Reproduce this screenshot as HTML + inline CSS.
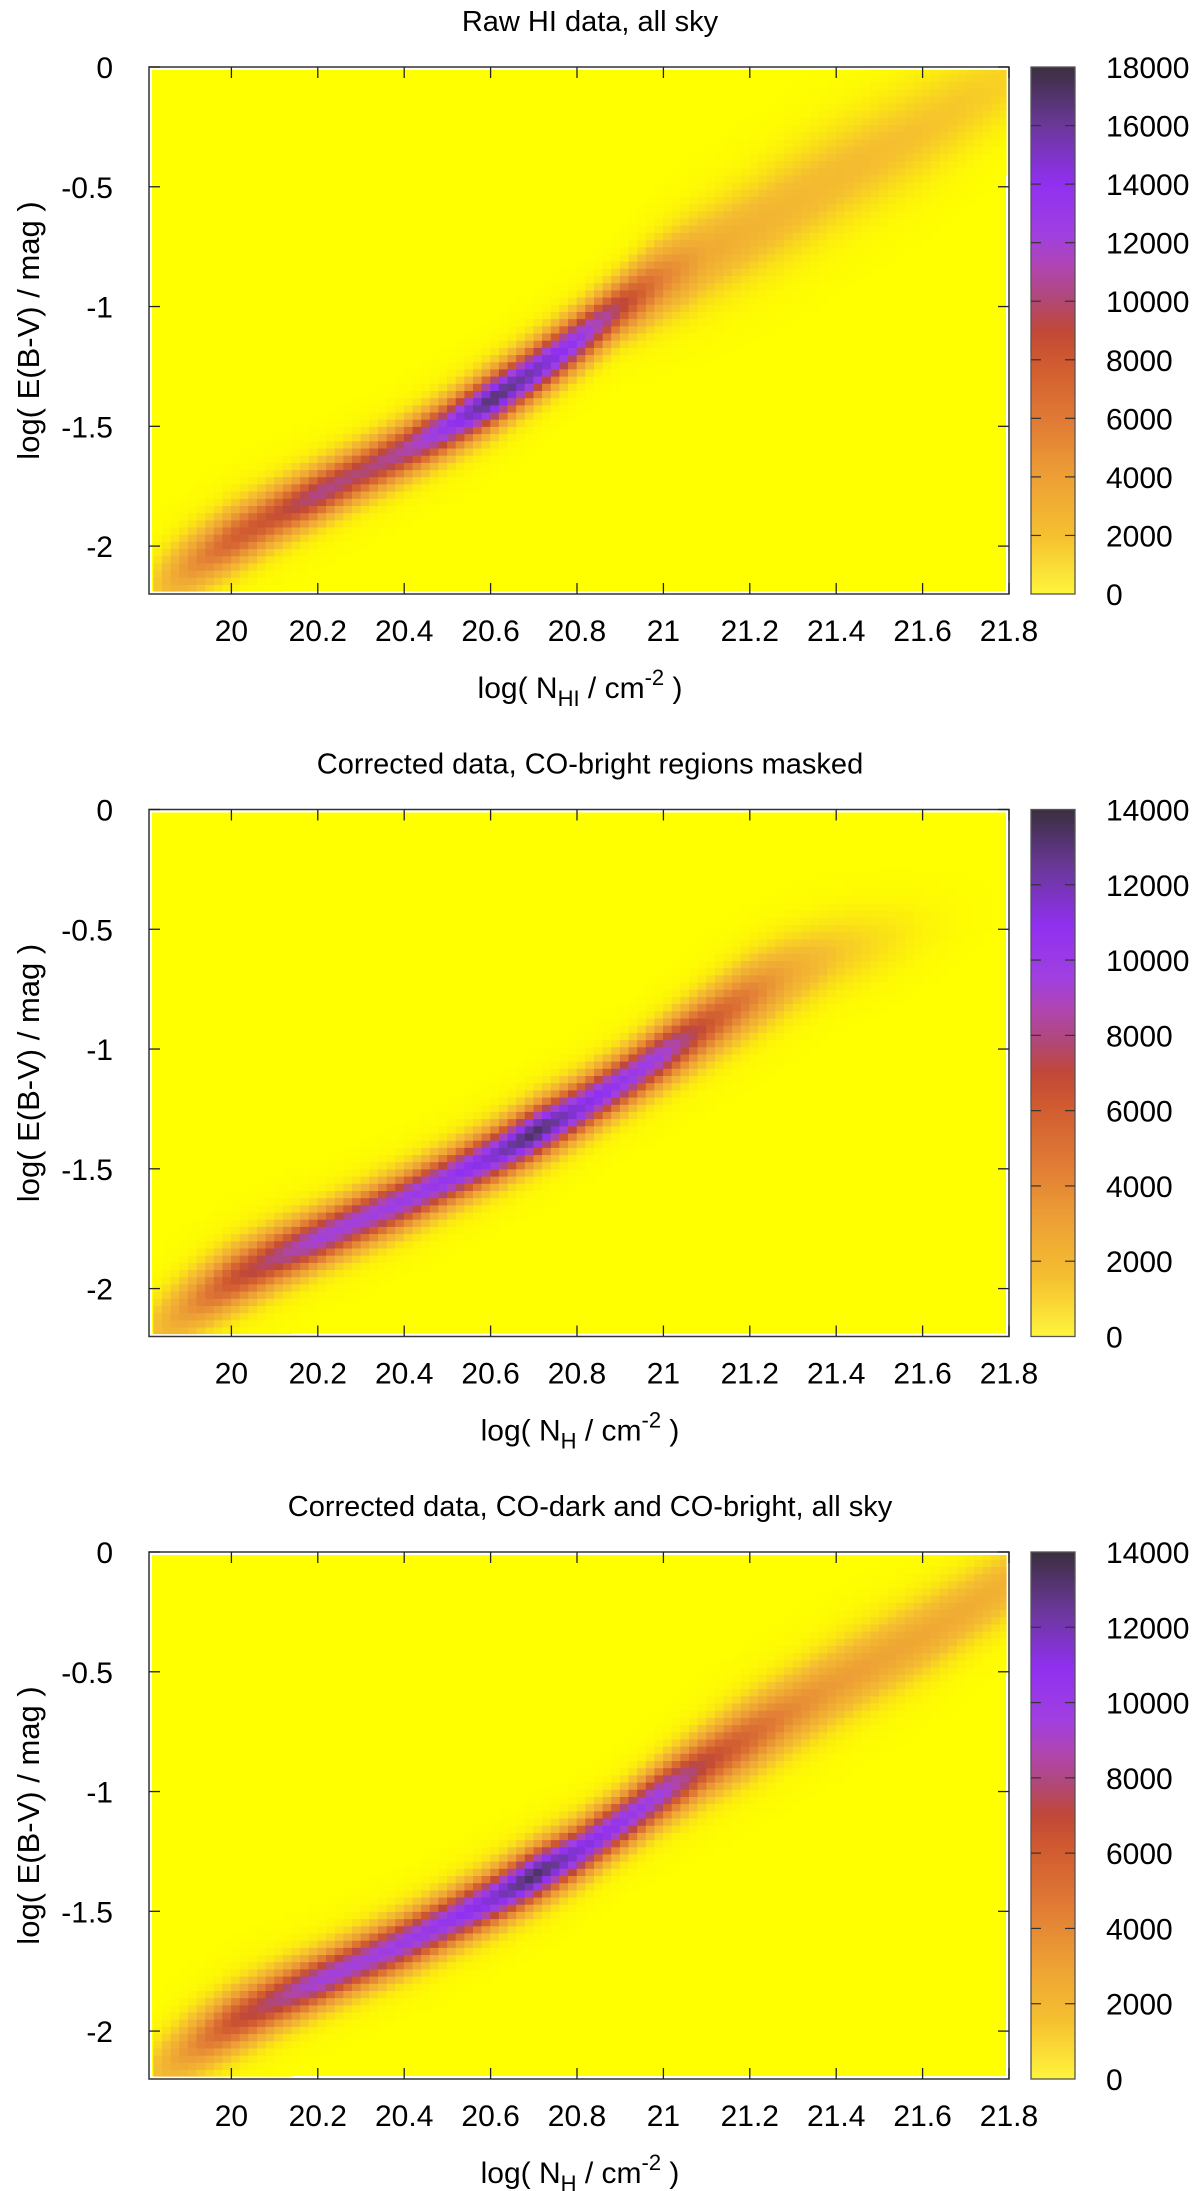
<!DOCTYPE html>
<html><head><meta charset="utf-8">
<style>
html,body{margin:0;padding:0;background:#fff;}
svg{display:block;}
text{font-family:"Liberation Sans",sans-serif;fill:#000;}
</style></head>
<body>
<svg id="fig" width="1200" height="2191" viewBox="0 0 1200 2191" xmlns="http://www.w3.org/2000/svg"></svg>
<script>
// ---- chart data ----
const titles = ["Raw HI data, all sky", "Corrected data, CO-bright regions masked", "Corrected data, CO-dark and CO-bright, all sky"];
const xSub = ["HI", "H", "H"];
const xTicks = [20, 20.2, 20.4, 20.6, 20.8, 21, 21.2, 21.4, 21.6, 21.8];
const xTickLabels = ["20","20.2","20.4","20.6","20.8","21","21.2","21.4","21.6","21.8"];
const yTicks = [0, -0.5, -1, -1.5, -2];
const yTickLabels = ["0","-0.5","-1","-1.5","-2"];
const cbMax = [18000, 14000, 14000];
// ridge sample positions along x
const ridgeX = [19.82, 19.9, 20.0, 20.1, 20.2, 20.3, 20.4, 20.5, 20.6, 20.7, 20.8, 20.9, 21.0, 21.1, 21.2, 21.3, 21.4, 21.5, 21.6, 21.7, 21.8];
// panel 1: ridge centre (log E(B-V)), peak count, vertical spread
const ridgeY1 = [-2.17, -2.08, -1.97, -1.87, -1.78, -1.69, -1.6, -1.5, -1.39, -1.27, -1.14, -1.0, -0.88, -0.78, -0.68, -0.57, -0.46, -0.36, -0.26, -0.15, -0.05];
const peak1   = [1500, 4500, 7500, 8500, 10500, 10000, 11000, 13500, 17000, 15500, 13500, 9500, 5500, 3300, 2800, 2500, 2300, 2100, 1900, 1700, 1400];
const width1  = [0.09, 0.085, 0.08, 0.075, 0.07, 0.07, 0.07, 0.07, 0.07, 0.07, 0.07, 0.075, 0.1, 0.12, 0.13, 0.14, 0.14, 0.14, 0.14, 0.13, 0.12];
// panel 2
const ridgeY2 = [-2.17, -2.07, -1.96, -1.87, -1.79, -1.71, -1.63, -1.54, -1.45, -1.35, -1.25, -1.14, -1.02, -0.9, -0.78, -0.68, -0.6, -0.55, -0.5, -0.45, -0.4];
const peak2   = [1500, 3500, 6500, 8000, 9500, 9500, 10000, 10500, 11500, 13500, 11500, 10500, 9500, 6500, 4500, 2500, 1400, 800, 300, 80, 0];
const width2  = [0.09, 0.085, 0.08, 0.075, 0.07, 0.07, 0.07, 0.07, 0.07, 0.07, 0.07, 0.07, 0.075, 0.085, 0.095, 0.1, 0.1, 0.1, 0.1, 0.1, 0.1];
// panel 3
const ridgeY3 = [-2.17, -2.07, -1.96, -1.87, -1.79, -1.71, -1.63, -1.54, -1.45, -1.35, -1.25, -1.13, -1.0, -0.88, -0.77, -0.66, -0.55, -0.45, -0.35, -0.24, -0.13];
const peak3   = [1500, 3500, 6500, 8000, 9500, 9500, 10000, 10500, 11500, 13500, 11500, 10500, 9500, 7000, 5500, 4000, 3200, 2900, 2700, 2500, 2200];
const width3  = [0.09, 0.085, 0.08, 0.075, 0.07, 0.07, 0.07, 0.07, 0.07, 0.07, 0.07, 0.07, 0.075, 0.085, 0.095, 0.1, 0.105, 0.105, 0.105, 0.1, 0.1];

const ridges = [[ridgeY1, peak1, width1], [ridgeY2, peak2, width2], [ridgeY3, peak3, width3]];

// ---- layout ----
const NS = "http://www.w3.org/2000/svg";
const svg = document.getElementById('fig');
const L = 149, R = 1009, T0 = 67, B0 = 594, DY = 742.5;
const xMin = 21.8 - (R - L) / 432, xMax = 21.8, yMin = -2.2, yMax = 0;
const cbL = 1031, cbR = 1075;
function xs(v) { return L + (v - xMin) / (xMax - xMin) * (R - L); }
function ysF(T, B) { return v => B - (v - yMin) / (yMax - yMin) * (B - T); }

const stops = [[0, [255, 255, 0]], [0.11, [245, 192, 48]], [0.22, [237, 160, 53]], [0.33, [224, 122, 53]], [0.44, [208, 90, 48]], [0.5, [192, 72, 56]], [0.56, [176, 72, 120]], [0.62, [176, 69, 176]], [0.68, [160, 64, 224]], [0.78, [144, 48, 240]], [0.89, [106, 56, 152]], [1, [58, 47, 63]]];
const cbStops = [[0, [255, 245, 60]]].concat(stops.slice(1));
function cmap(f) {
  f = Math.min(1, f);
  for (let i = 1; i < stops.length; i++) {
    if (f <= stops[i][0]) {
      const a = stops[i - 1], b = stops[i], t = (f - a[0]) / (b[0] - a[0]);
      const c = a[1].map((v, k) => Math.round(v + (b[1][k] - v) * t));
      return 'rgb(' + c.join(',') + ')';
    }
  }
  return 'rgb(58,47,63)';
}
function interp(arr, x) {
  if (x <= ridgeX[0]) return arr[0];
  for (let i = 1; i < ridgeX.length; i++) {
    if (x <= ridgeX[i]) { const t = (x - ridgeX[i - 1]) / (ridgeX[i] - ridgeX[i - 1]); return arr[i - 1] + (arr[i] - arr[i - 1]) * t; }
  }
  return arr[arr.length - 1];
}
function mk(tag, attrs, parent) {
  const e = document.createElementNS(NS, tag);
  for (const k in attrs) e.setAttribute(k, attrs[k]);
  parent.appendChild(e);
  return e;
}

for (let p = 0; p < 3; p++) {
  const T = T0 + p * DY, B = B0 + p * DY;
  const ys = ysF(T, B);
  const g = mk('g', {}, svg);
  
  

  const title = mk('text', { x: 590, y: T - 36, 'font-size': 29, 'text-anchor': 'middle' }, g);
  title.textContent = titles[p];
  
  

  // heatmap
  const hm = mk('g', {}, g);
  
  
  const bg = mk('rect', { x: L + 3, y: T + 3, width: R - L - 6, height: B - T - 6, fill: '#ffff00' }, hm);
  
  
  const [rY, pk, wd] = ridges[p];
  const dx = 0.02, dyc = 0.03;
  for (let x = xMin + 0.01; x < xMax - 0.005; x += dx) {
    const c = interp(rY, x + dx / 2), pv = interp(pk, x + dx / 2), s = interp(wd, x + dx / 2);
    for (let y = yMin + 0.01; y < yMax - 0.01; y += dyc) {
      const d = (y + dyc / 2 - c) / s;
      const v = pv * (0.9 * Math.exp(-0.5 * d * d) + 0.1 * Math.exp(-0.5 * d * d / 3));
      const f = v / cbMax[p];
      if (f < 0.002) continue;
      const x0 = Math.max(xs(x), L + 3), x1 = Math.min(xs(x + dx), R - 3);
      const y0 = Math.max(ys(y + dyc), T + 3), y1 = Math.min(ys(y), B - 3);
      const r = mk('rect', { x: x0.toFixed(1), y: y0.toFixed(1), width: (x1 - x0 + 0.6).toFixed(1), height: (y1 - y0 + 0.6).toFixed(1), fill: cmap(f) }, hm);
      
      
    }
  }

  // frame
  const fr = mk('rect', { x: L, y: T, width: R - L, height: B - T, fill: 'none', stroke: '#333', 'stroke-width': 1.5 }, g);
  
  

  // x ticks
  xTicks.forEach((v, i) => {
    const X = xs(v);
    const t1 = mk('line', { x1: X, x2: X, y1: B, y2: B - 11, stroke: '#222', 'stroke-width': 1.3 }, g);
    
    
    const t2 = mk('line', { x1: X, x2: X, y1: T, y2: T + 11, stroke: '#222', 'stroke-width': 1.3 }, g);
    
    
    const lb = mk('text', { x: X, y: B + 47, 'font-size': 30, 'text-anchor': 'middle' }, g);
    lb.textContent = xTickLabels[i];
    
    
  });
  // y ticks
  yTicks.forEach((v, i) => {
    const Y = ys(v);
    const t1 = mk('line', { x1: L, x2: L + 11, y1: Y, y2: Y, stroke: '#222', 'stroke-width': 1.3 }, g);
    
    
    const t2 = mk('line', { x1: R, x2: R - 11, y1: Y, y2: Y, stroke: '#222', 'stroke-width': 1.3 }, g);
    
    
    const lb = mk('text', { x: 113, y: Y + 11, 'font-size': 30, 'text-anchor': 'end' }, g);
    lb.textContent = yTickLabels[i];
    
    
  });

  // axis titles
  const yt = mk('text', { x: 0, y: 0, 'font-size': 31, 'text-anchor': 'middle', transform: 'translate(39,' + ((T + B) / 2) + ') rotate(-90)' }, g);
  yt.textContent = 'log( E(B-V) / mag )';
  
  
  const xt = mk('text', { x: 580, y: B + 104, 'font-size': 30, 'text-anchor': 'middle' }, g);
  
  
  xt.innerHTML = 'log( N<tspan font-size="22" dy="8">' + xSub[p] + '</tspan><tspan dy="-8"> / cm</tspan><tspan font-size="22" dy="-13">-2</tspan><tspan dy="13"> )</tspan>';

  // colorbar
  const gid = 'cbg' + p;
  const defs = mk('defs', {}, g);
  const lg = mk('linearGradient', { id: gid, x1: 0, y1: 1, x2: 0, y2: 0 }, defs);
  cbStops.forEach(s => mk('stop', { offset: s[0], 'stop-color': 'rgb(' + s[1].join(',') + ')' }, lg));
  const cb = mk('rect', { x: cbL, y: T, width: cbR - cbL, height: B - T, fill: 'url(#' + gid + ')', stroke: '#555', 'stroke-width': 1.3 }, g);
  
  
  const step = 2000;
  for (let v = 0; v <= cbMax[p]; v += step) {
    const Y = B - v / cbMax[p] * (B - T);
    if (v > 0 && v < cbMax[p]) {
      const a = mk('line', { x1: cbL, x2: cbL + 10, y1: Y, y2: Y, stroke: '#333', 'stroke-width': 1.2 }, g);
      
      
      const b = mk('line', { x1: cbR, x2: cbR - 10, y1: Y, y2: Y, stroke: '#333', 'stroke-width': 1.2 }, g);
      
      
    }
    const lb = mk('text', { x: 1106, y: Y + 11, 'font-size': 30 }, g);
    lb.textContent = String(v);
    
    
  }
}
</script>
</body></html>
